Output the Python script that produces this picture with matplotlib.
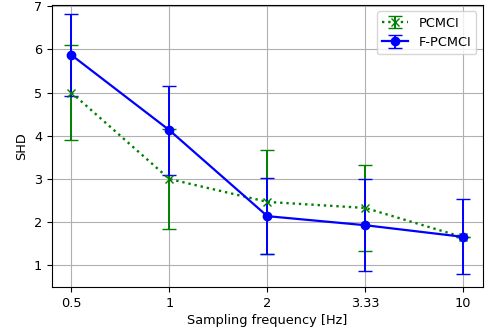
import matplotlib
matplotlib.use("Agg")
import matplotlib.pyplot as plt
import numpy as np

freqs = ["0.5", "1", "2", "3.33", "10"]
pcmci_mean = [5.0, 3.0, 2.47, 2.33, 1.65]
pcmci_err = [1.1, 1.15, 1.2, 1.0, 0.0]
fpcmci_mean = [5.87, 4.13, 2.14, 1.93, 1.66]
fpcmci_err = [0.95, 1.03, 0.88, 1.06, 0.87]

plt.rcParams["font.size"] = 9.3

x = np.arange(len(freqs))

fig, ax = plt.subplots(figsize=(5.03, 3.28), dpi=100)
ax.errorbar(x, pcmci_mean, yerr=pcmci_err, color="green", linestyle=":",
            marker="x", capsize=5, linewidth=1.7, elinewidth=1.4, label="PCMCI")
ax.errorbar(x, fpcmci_mean, yerr=fpcmci_err, color="blue", linestyle="-",
            marker="o", capsize=5, linewidth=1.6, elinewidth=1.4, label="F-PCMCI")
ax.set_xticks(x)
ax.set_xticklabels(freqs)
ax.set_xlim(-0.2, 4.2)
ax.set_ylim(0.5, 7.03)
ax.set_xlabel("Sampling frequency [Hz]", labelpad=3)
ax.set_ylabel("SHD")
ax.grid(True)
ax.legend(loc="upper right")
fig.subplots_adjust(left=0.103, right=0.96, top=0.985, bottom=0.125)
fig.savefig("out.png")
